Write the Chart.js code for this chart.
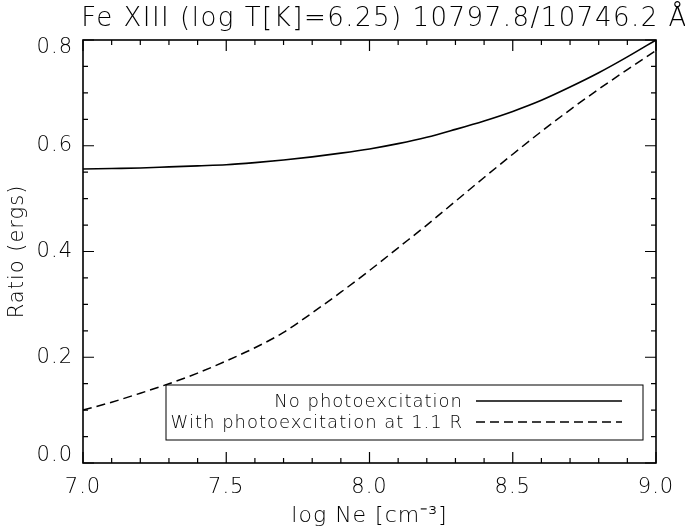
<!DOCTYPE html>
<html>
<head>
<meta charset="utf-8">
<script src="https://cdn.jsdelivr.net/npm/chart.js@4"></script>
<style>
  html, body { margin: 0; padding: 0; background: #fff; }
  canvas { display: block; }
</style>
</head>
<body>
<canvas id="chart" width="685" height="531"></canvas>
<script>
// log Ne grid and the two ratio curves
const logNe = [7.0, 7.1, 7.2, 7.3, 7.4, 7.5, 7.6, 7.7, 7.8, 7.9, 8.0,
               8.1, 8.2, 8.3, 8.4, 8.5, 8.6, 8.7, 8.8, 8.9, 9.0];
const noPhoto = [0.556, 0.557, 0.558, 0.560, 0.562, 0.564, 0.568, 0.573, 0.579, 0.586, 0.594,
                 0.604, 0.616, 0.631, 0.647, 0.665, 0.686, 0.711, 0.738, 0.768, 0.800];
const withPhoto = [0.100, 0.115, 0.132, 0.150, 0.170, 0.193, 0.218, 0.247, 0.284, 0.323, 0.364,
                   0.407, 0.450, 0.495, 0.540, 0.584, 0.627, 0.668, 0.707, 0.744, 0.780];

const xTicks = [7.0, 7.5, 8.0, 8.5, 9.0];
const yTicks = [0.0, 0.2, 0.4, 0.6, 0.8];
const xMinor = 0.1;
const yMinor = 0.05;

const titleText = 'Fe XIII (log T[K]=6.25) 10797.8/10746.2 Å';
const legendLabels = ['No photoexcitation', 'With photoexcitation at 1.1 R'];

const FONT = "'DejaVu Sans', sans-serif";

const toPts = ys => logNe.map((x, i) => ({x: x, y: ys[i]}));

const frame = {
    id: 'frame',
    beforeDraw(chart) {
        chart.ctx.letterSpacing = '1px';
    },
    afterDatasetsDraw(chart) {
        const {ctx, chartArea: a, scales: {x, y}} = chart;
        ctx.save();
        ctx.strokeStyle = '#000';
        ctx.lineWidth = 1.6;
        ctx.strokeRect(a.left, a.top, a.right - a.left, a.bottom - a.top);

        // inward ticks on all four sides
        ctx.lineWidth = 1.2;
        ctx.beginPath();
        let n = Math.round((x.max - x.min) / xMinor);
        for (let i = 0; i <= n; i++) {
            const v = x.min + i * xMinor;
            const px = x.getPixelForValue(v);
            const len = xTicks.some(t => Math.abs(t - v) < 1e-6) ? 11 : 5;
            ctx.moveTo(px, a.bottom); ctx.lineTo(px, a.bottom - len);
            ctx.moveTo(px, a.top); ctx.lineTo(px, a.top + len);
        }
        n = Math.round((y.max - y.min) / yMinor);
        for (let i = 0; i <= n; i++) {
            const v = y.min + i * yMinor;
            const py = y.getPixelForValue(v);
            const len = yTicks.some(t => Math.abs(t - v) < 1e-6) ? 11 : 5;
            ctx.moveTo(a.left, py); ctx.lineTo(a.left + len, py);
            ctx.moveTo(a.right, py); ctx.lineTo(a.right - len, py);
        }
        ctx.stroke();

        // legend box
        const bl = a.left + 83, br = a.right - 13, bt = a.bottom - 78, bb = a.bottom - 23;
        ctx.lineWidth = 1;
        ctx.strokeRect(bl, bt, br - bl, bb - bt);
        ctx.font = '200 18px ' + FONT;
        ctx.fillStyle = '#000';
        ctx.textAlign = 'right';
        ctx.textBaseline = 'alphabetic';
        const textX = a.left + 380, l0 = a.left + 393, l1 = a.left + 539;
        const rows = [bt + 22, bt + 43];
        chart.data.datasets.forEach((ds, i) => {
            ctx.fillText(legendLabels[i], textX, rows[i]);
            ctx.lineWidth = ds.borderWidth;
            ctx.setLineDash(ds.borderDash || []);
            ctx.beginPath();
            ctx.moveTo(l0, rows[i] - 6);
            ctx.lineTo(l1, rows[i] - 6);
            ctx.stroke();
        });
        ctx.setLineDash([]);

        // main title, centred over the plot area (runs off the right edge like the original)
        ctx.letterSpacing = '1.5px';
        ctx.font = '200 26px ' + FONT;
        ctx.textAlign = 'center';
        ctx.fillText(titleText, (a.left + a.right) / 2 + 15, 26);
        ctx.restore();
    }
};

const endTick = v => Math.abs(v - 0.8) < 1e-9 || Math.abs(v) < 1e-9;

new Chart(document.getElementById('chart').getContext('2d'), {
    type: 'line',
    data: {
        datasets: [{
            label: legendLabels[0],
            data: toPts(noPhoto),
            borderColor: '#000',
            borderWidth: 1.6,
            pointRadius: 0,
            cubicInterpolationMode: 'monotone'
        }, {
            label: legendLabels[1],
            data: toPts(withPhoto),
            borderColor: '#000',
            borderWidth: 1.5,
            borderDash: [9, 5],
            pointRadius: 0,
            cubicInterpolationMode: 'monotone'
        }]
    },
    options: {
        responsive: false,
        animation: false,
        layout: {padding: {top: 40, right: 29, left: 0, bottom: 0}},
        plugins: {
            legend: {display: false},
            tooltip: {enabled: false}
        },
        scales: {
            x: {
                type: 'linear',
                min: 7.0,
                max: 9.0,
                afterBuildTicks: s => { s.ticks = xTicks.map(v => ({value: v})); },
                afterFit: s => { s.height = 68; },
                grid: {display: false, drawTicks: false},
                border: {display: false},
                ticks: {
                    color: '#000',
                    padding: 12,
                    maxRotation: 0,
                    font: {family: FONT, size: 21, weight: 200},
                    callback: v => v.toFixed(1)
                },
                title: {
                    display: true,
                    text: 'log Ne [cm⁻³]',
                    color: '#000',
                    font: {family: FONT, size: 22, weight: 200},
                    padding: {top: 0, bottom: 2}
                }
            },
            y: {
                min: 0,
                max: 0.8,
                afterBuildTicks: s => { s.ticks = yTicks.map(v => ({value: v})); },
                afterFit: s => { s.width = 83; },
                grid: {display: false, drawTicks: false},
                border: {display: false},
                ticks: {
                    color: '#000',
                    padding: 10,
                    font: c => ({family: FONT, size: 21, weight: 200,
                                 lineHeight: c.tick && endTick(c.tick.value) ? 0.7 : 1.2}),
                    callback: v => {
                        const s = v.toFixed(1);
                        if (Math.abs(v - 0.8) < 1e-9) return ['', s];
                        if (Math.abs(v) < 1e-9) return [s, ''];
                        return s;
                    }
                },
                title: {
                    display: true,
                    text: 'Ratio (ergs)',
                    color: '#000',
                    font: {family: FONT, size: 21, weight: 200},
                    padding: {top: 5, bottom: 0}
                }
            }
        }
    },
    plugins: [frame]
});
</script>
</body>
</html>
